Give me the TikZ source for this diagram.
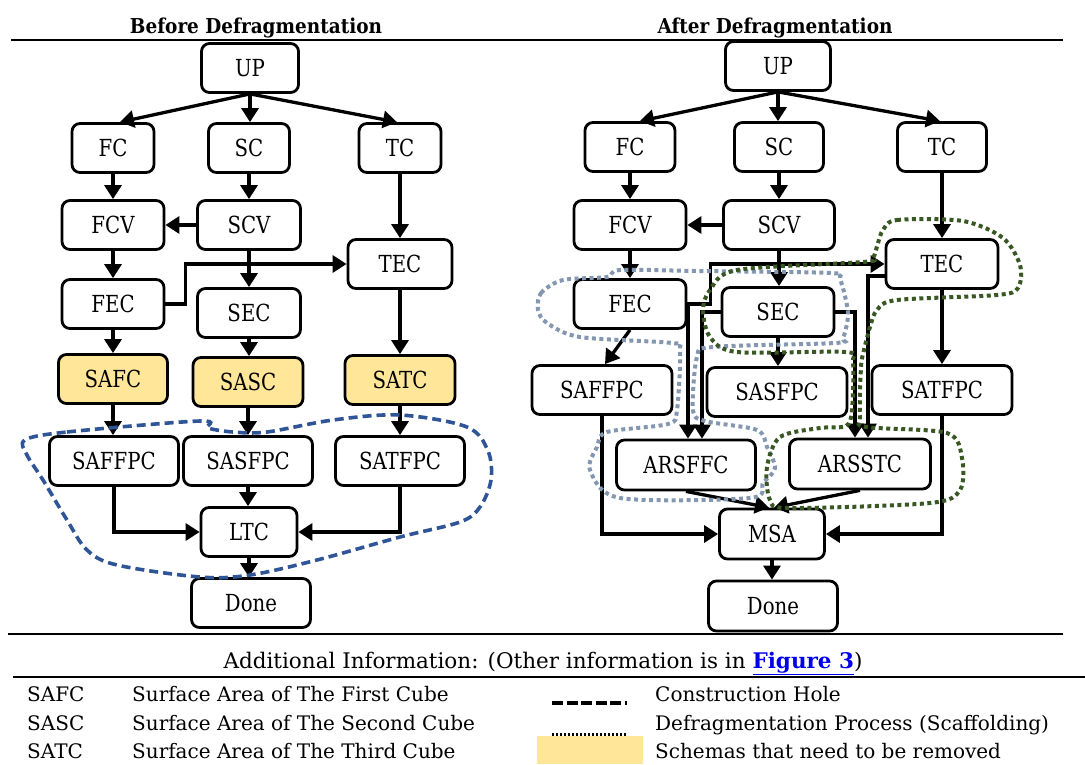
\documentclass[tikz,border=0pt]{standalone}
\usepackage{fontspec}
\setmainfont{DejaVu Serif}
\newfontfamily\boxfont[FakeStretch=0.84]{DejaVu Serif}
\newfontfamily\headfont[FakeStretch=0.9]{DejaVu Serif}
\usetikzlibrary{arrows.meta,calc}
\definecolor{remfill}{RGB}{255,230,153}
\definecolor{holeblue}{RGB}{47,85,151}
\definecolor{scafgrey}{RGB}{132,151,176}
\definecolor{scafgreen}{RGB}{56,87,35}
\definecolor{linkblue}{RGB}{0,0,238}
\begin{document}
\begin{tikzpicture}[x=1pt,y=-1pt,
  box/.style={draw,rounded corners=8pt,line width=2.8pt,minimum height=49pt,
    inner sep=0pt,font=\boxfont\fontsize{23.5}{28}\selectfont},
  rem/.style={box,fill=remfill},
  arr/.style={line width=3.3pt,-{Triangle[length=14pt,width=17pt]}},
  hole/.style={draw=holeblue,line width=3.6pt,dash pattern=on 9pt off 5pt},
  scaf/.style={line width=4pt,dash pattern=on 4pt off 3.5pt},
  head/.style={font=\headfont\bfseries\fontsize{20.5}{24}\selectfont,anchor=base},
  legend/.style={font=\fontsize{20}{24}\selectfont,anchor=base west,inner sep=0pt},
  rule/.style={line width=2.2pt}]
\useasboundingbox (0,0) rectangle (1085,764);

% headings and rules
\node[head] (hbefore) at (256,33) {Before Defragmentation};
\node[head] (hafter) at (775,33) {After Defragmentation};
\draw[rule] (11,40) -- (1063,40);
\draw[rule] (8,634) -- (1063,634);

% ---------- before defragmentation ----------
\node[box,minimum width=97pt] (bUP) at (250,68) {UP};
\node[box,minimum width=82pt] (bFC) at (113,148) {FC};
\node[box,minimum width=81pt] (bSC) at (249,148) {SC};
\node[box,minimum width=82pt] (bTC) at (400,148) {TC};
\node[box,minimum width=102pt] (bFCV) at (113,225) {FCV};
\node[box,minimum width=103pt] (bSCV) at (249,225) {SCV};
\node[box,minimum width=104pt] (bTEC) at (400,264) {TEC};
\node[box,minimum width=102pt] (bFEC) at (113,304) {FEC};
\node[box,minimum width=103pt] (bSEC) at (249,313) {SEC};
\node[rem,minimum width=109pt] (bSAFC) at (113,379) {SAFC};
\node[rem,minimum width=110pt] (bSASC) at (248,382) {SASC};
\node[rem,minimum width=110pt] (bSATC) at (400,380) {SATC};
\node[box,minimum width=129pt] (bSAFFPC) at (114,461) {SAFFPC};
\node[box,minimum width=129pt] (bSASFPC) at (248,461) {SASFPC};
\node[box,minimum width=129pt] (bSATFPC) at (400,461) {SATFPC};
\node[box,minimum width=96pt] (bLTC) at (249,532) {LTC};
\node[box,minimum width=119pt] (bDone) at (251,603) {Done};

\draw[arr] (bUP.south) -- ([xshift=7pt]bFC.north);
\draw[arr] (bUP.south) -- (bUP.south |- bSC.north);
\draw[arr] (bUP.south) -- ([xshift=-3pt]bTC.north);
\draw[arr] (bFC.south) -- (bFC.south |- bFCV.north);
\draw[arr] (bSC.south) -- (bSC.south |- bSCV.north);
\draw[arr] (bTC.south) -- (bTC.south |- bTEC.north);
\draw[arr] (bSCV.west) -- (bFCV.east);
\draw[arr] (bFCV.south) -- (bFCV.south |- bFEC.north);
\draw[arr] (bSCV.south) -- (bSCV.south |- bSEC.north);
\draw[arr] (bFEC.east) -- ++(20,0) |- (bTEC.west);
\draw[arr] (bFEC.south) -- (bFEC.south |- bSAFC.north);
\draw[arr] (bSEC.south) -- (bSEC.south |- bSASC.north);
\draw[arr] (bTEC.south) -- (bTEC.south |- bSATC.north);
\draw[arr] (bSAFC.south) -- (bSAFC.south |- bSAFFPC.north);
\draw[arr] (bSASC.south) -- (bSASC.south |- bSASFPC.north);
\draw[arr] (bSATC.south) -- (bSATC.south |- bSATFPC.north);
\draw[arr] (bSASFPC.south) -- (bSASFPC.south |- bLTC.north);
\draw[arr] (bSAFFPC.south) |- (bLTC.west);
\draw[arr] (bSATFPC.south) |- (bLTC.east);
\draw[arr] (bLTC.south) -- (bLTC.south |- bDone.north);

% construction hole
\draw[hole] plot[smooth cycle,tension=0.55] coordinates {
  (25,440) (67,432) (200,421) (208,428) (233,432) (267,432) (333,420)
  (400,415) (467,427) (488,451) (491,480) (480,507) (460,522) (400,537)
  (317,560) (250,575) (200,577) (117,565) (87,550) (67,520) (43,480) (27,455)};

% ---------- after defragmentation ----------
\node[box,minimum width=105pt] (aUP) at (778,66) {UP};
\node[box,minimum width=90pt] (aFC) at (630,147) {FC};
\node[box,minimum width=89pt] (aSC) at (779,147) {SC};
\node[box,minimum width=89pt] (aTC) at (942,147) {TC};
\node[box,minimum width=112pt] (aFCV) at (630,225) {FCV};
\node[box,minimum width=111pt] (aSCV) at (779,225) {SCV};
\node[box,minimum width=112pt] (aTEC) at (942,264) {TEC};
\node[box,minimum width=112pt] (aFEC) at (630,304) {FEC};
\node[box,minimum width=112pt] (aSEC) at (778,312) {SEC};
\node[box,minimum width=140pt] (aSAFFPC) at (602,390) {SAFFPC};
\node[box,minimum width=140pt] (aSASFPC) at (777,392) {SASFPC};
\node[box,minimum width=140pt] (aSATFPC) at (942,390) {SATFPC};
\node[box,minimum width=139pt,minimum height=50pt] (aARSFFC) at (686,465) {ARSFFC};
\node[box,minimum width=141pt,minimum height=50pt] (aARSSTC) at (860,464) {ARSSTC};
\node[box,minimum width=105pt,minimum height=50pt] (aMSA) at (772,534) {MSA};
\node[box,minimum width=129pt,minimum height=50pt] (aDone) at (773,606) {Done};

\draw[arr] (aUP.south) -- ([xshift=10pt]aFC.north);
\draw[arr] (aUP.south) -- (aUP.south |- aSC.north);
\draw[arr] (aUP.south) -- ([xshift=-2pt]aTC.north);
\draw[arr] (aFC.south) -- (aFC.south |- aFCV.north);
\draw[arr] (aSC.south) -- (aSC.south |- aSCV.north);
\draw[arr] (aTC.south) -- (aTC.south |- aTEC.north);
\draw[arr] (aSCV.west) -- (aFCV.east);
\draw[arr] (aFCV.south) -- (aFCV.south |- aFEC.north);
\draw[arr] (aSCV.south) -- (aSCV.south |- aSEC.north);
\draw[arr] (aFEC.east) -- ++(23,0) |- (aTEC.west);
\draw[arr] (aFEC.south) -- ([xshift=3pt]aSAFFPC.north);
\draw[arr] (aSEC.south) -- (aSEC.south |- aSASFPC.north);
\draw[arr] (aTEC.south) -- (aTEC.south |- aSATFPC.north);
\draw[arr] (aFEC.east) -| ([xshift=2pt]aARSFFC.north);
\draw[arr] (aSEC.west) -| ([xshift=16pt]aARSFFC.north);
\draw[arr] (aSEC.east) -| ([xshift=-5pt]aARSSTC.north);
\draw[arr] ([yshift=-12pt]aTEC.west) -| ([xshift=8pt]aARSSTC.north);
\draw[arr] (aARSFFC.south) -- ([xshift=-3pt]aMSA.north);
\draw[arr] (aARSSTC.south) -- ([xshift=2pt]aMSA.north);
\draw[arr] (aSAFFPC.south) |- (aMSA.west);
\draw[arr] (aSATFPC.south) |- (aMSA.east);
\draw[arr] (aMSA.south) -- (aMSA.south |- aDone.north);

% scaffolding round FEC, SEC and ARSFFC
\draw[scaf,draw=scafgrey] plot[smooth cycle,tension=0.5] coordinates {
  (538,310) (541,293) (563,280) (607,277) (620,270) (697,271) (830,273)
  (840,279) (848,313) (843,338) (835,343) (713,347) (697,357) (693,410)
  (705,421) (757,430) (767,447) (775,468) (763,483) (750,498) (620,498)
  (590,470) (597,447) (607,432) (668,424) (677,410) (680,350) (672,343)
  (580,337) (547,323)};

% scaffolding round TEC, SEC and ARSSTC
\draw[scaf,draw=scafgreen] plot[smooth cycle,tension=0.5] coordinates {
  (883,230) (897,220) (963,221) (1003,238) (1020,265) (1018,288) (997,295)
  (897,300) (877,310) (870,327) (864,350) (861,367) (860,417) (866,427)
  (947,433) (962,458) (960,490) (930,503) (790,508) (770,500) (767,467)
  (780,437) (820,428) (846,426) (852,410) (853,362) (845,352) (737,352)
  (710,337) (703,310) (710,290) (737,270) (863,262) (873,258) (878,243)};

% ---------- legend ----------
\node[font=\fontsize{21.5}{25}\selectfont,anchor=base,inner sep=0pt] (ltitle) at (543,668)
  {Additional Information: (Other information is in
   \textcolor{linkblue}{\underline{\textbf{Figure 3}}})};
\draw[rule] (13,677) -- (1085,677);

\node[legend] (k1) at (27,701) {SAFC};
\node[legend] (d1) at (132,701) {Surface Area of The First Cube};
\node[legend] (k2) at (27,730) {SASC};
\node[legend] (d2) at (132,730) {Surface Area of The Second Cube};
\node[legend] (k3) at (27,758) {SATC};
\node[legend] (d3) at (132,758) {Surface Area of The Third Cube};

\fill[remfill] (537,736) rectangle (643,764);
\coordinate (hs) at (552,703);
\coordinate (he) at (627,703);
\draw[line width=4pt,dash pattern=on 11pt off 3.5pt] (hs) -- (he);
\coordinate (ss) at (552,734);
\coordinate (se) at (627,734);
\draw[line width=3pt,dash pattern=on 2pt off 2pt] (ss) -- (se);

\node[legend] (r1) at (655,701) {Construction Hole};
\node[legend] (r2) at (655,730) {Defragmentation Process (Scaffolding)};
\node[legend] (r3) at (655,758) {Schemas that need to be removed};
\end{tikzpicture}
\end{document}
